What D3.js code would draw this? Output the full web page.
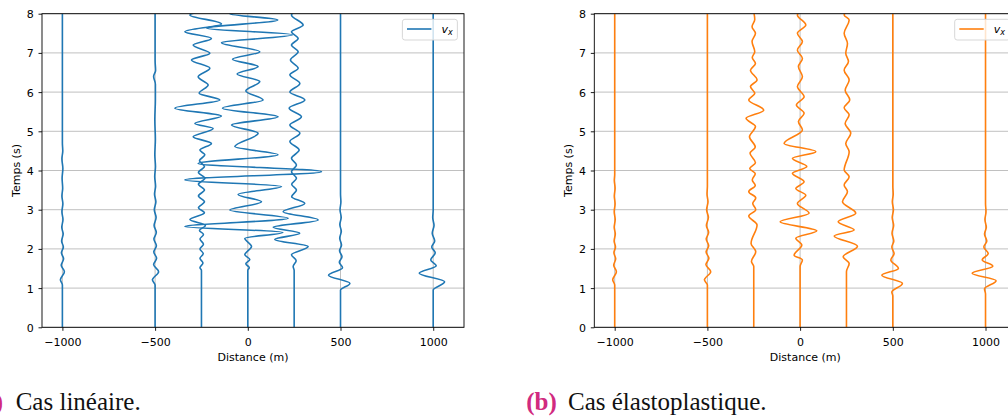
<!DOCTYPE html>
<html><head><meta charset="utf-8">
<script src="https://cdn.jsdelivr.net/npm/d3@7"></script>
<style>body{margin:0;background:#fff} svg text{font-family:"DejaVu Sans";} svg text.cap{font-family:"Liberation Serif";}</style>
</head><body><svg id="c" width="1008" height="417"></svg>
<script>
// ---------- data ----------
const positions = [-1000, -500, -250, 0, 250, 500, 1000];   // station distance (m)
const xTicks = [-1000, -500, 0, 500, 1000];
const yTicks = [0, 1, 2, 3, 4, 5, 6, 7, 8];
const seriesName = "v";
const captions = [["(a)", "Cas linéaire."], ["(b)", "Cas élastoplastique."]];
const GAIN = 5.39; // metres of trace deflection per unit of vx

// linear case : [time (s), vx]
const lin_m1000 = [[0,0],[1.08,0],[1.21,-2],[1.42,2],[1.58,-1.2],[1.75,1.2],[1.9,-1],[2.05,1],[2.2,-0.8],[2.38,0.8],[2.55,-0.6],[2.75,0.6],[2.95,-0.5],[3.15,0.5],[3.35,-0.5],[3.55,0.3],[3.8,-0.3],[4.05,0.5],[4.3,-0.5],[4.5,0.4],[4.7,0],[8,0]];
const lin_m500 = [[0,0],[1.08,0],[1.21,-2.7],[1.42,3.5],[1.6,-1.5],[1.76,1.5],[1.92,-1.3],[2.08,1.3],[2.25,-1.2],[2.42,1.2],[2.6,-1],[2.8,1],[3.0,-0.8],[3.2,0.8],[3.4,-0.6],[3.6,0.5],[3.85,-0.4],[4.1,0.4],[4.4,-0.3],[4.8,0.3],[5.3,-0.3],[5.8,0.3],[6.2,0.3],[6.4,-1.5],[6.55,0.5],[6.8,0],[8,0]];
const lin_m250 = [[0,0],[1.45,0],[1.52,-1.5],[1.64,1.5],[1.76,-1.5],[1.88,1.8],[2.0,-1.5],[2.12,2],[2.25,-1.5],[2.37,2],[2.47,-2],[2.6,4],[2.75,-11.6],[2.92,3],[3.05,-3],[3.2,3],[3.35,-3],[3.5,3],[3.65,-3],[3.8,3.5],[3.95,-3],[4.1,3],[4.25,-2],[4.4,3.4],[4.52,-1.6],[4.69,10],[4.86,-8.3],[5.07,11.7],[5.2,-6.6],[5.39,20],[5.59,-26.6],[5.8,18.4],[5.97,-2.3],[6.18,6.7],[6.39,-3.3],[6.61,8.4],[6.82,-10],[6.99,8.4],[7.2,-8.3],[7.37,10],[7.54,-16.6],[7.74,20],[7.97,-11.6],[8.05,0]];
const lin_0 = [[0,0],[1.45,0],[1.52,1.5],[1.62,-2],[1.73,2],[1.85,-3],[2.06,3.7],[2.27,-3],[2.42,35],[2.57,-63],[2.78,40.3],[2.99,-18],[3.2,13.7],[3.39,-9.7],[3.59,33.7],[3.76,-63],[3.97,73.7],[4.18,-49.7],[4.4,30.3],[4.61,-13],[4.95,10.3],[5.16,-16.3],[5.37,30.3],[5.59,-25.3],[5.8,15.3],[6.03,-2],[6.27,12],[6.46,-10.7],[6.65,10.3],[6.84,-15.3],[7.03,12],[7.26,-26.3],[7.46,45],[7.63,-41],[7.84,30],[8.0,-18],[8.1,0]];
const lin_250 = [[0,0],[1.45,0],[1.55,-1],[1.7,2],[1.85,-2.7],[2.06,14],[2.24,-19.4],[2.4,5.6],[2.55,-21],[2.74,24],[2.95,-11],[3.16,10.6],[3.33,-2.5],[3.5,2.3],[3.65,-2.5],[3.8,2.3],[3.97,-2.7],[4.14,2.3],[4.31,-2.7],[4.52,5],[4.74,-4.3],[4.95,5.7],[5.16,-4.3],[5.37,7.3],[5.59,-5],[5.8,10.7],[6.0,-4.3],[6.22,5.7],[6.44,-4.3],[6.61,4],[6.82,-3.7],[7.03,4],[7.2,-2.7],[7.37,4],[7.54,-2.7],[7.71,9],[7.97,-2.7],[8.05,0]];
const lin_500 = [[0,0],[0.95,0],[1.12,9.4],[1.33,-12],[1.52,2],[1.66,-1.2],[1.8,1.5],[1.95,-1],[2.1,1],[2.27,-0.8],[2.45,0.8],[2.62,-0.7],[2.8,0.7],[3.0,-0.5],[3.2,0.4],[3.4,0],[8,0]];
const lin_1000 = [[0,0],[0.95,0],[1.16,11.4],[1.38,-14],[1.57,3],[1.72,-2.5],[1.9,2],[2.05,-1.5],[2.2,1.5],[2.4,-1],[2.6,0.8],[2.8,-0.5],[3.0,0],[8,0]];

// elastoplastic case : [time (s), vx]
const ep_m1000 = [[0,0],[1.08,0],[1.21,-2],[1.42,1.7],[1.58,-1],[1.75,1],[1.9,-0.8],[2.05,0.8],[2.2,-0.6],[2.38,0.6],[2.55,-0.5],[2.75,0.5],[2.95,-0.5],[3.15,0.4],[3.35,-0.4],[3.55,0.4],[3.75,-0.4],[3.9,0],[8,0]];
const ep_m500 = [[0,0],[1.08,0],[1.21,-3],[1.42,3.3],[1.6,-1.5],[1.76,1.5],[1.92,-1.3],[2.08,1.3],[2.25,-1.2],[2.42,1.2],[2.6,-1],[2.8,1],[3.0,-0.8],[3.2,0.6],[3.4,-0.4],[3.6,0],[8,0]];
const ep_m250 = [[0,0],[1.55,0],[1.68,-2.3],[1.93,2],[2.14,-2.7],[2.61,3.3],[2.84,-5],[3.0,2],[3.16,-1],[3.3,2],[3.46,-5],[3.62,1.5],[3.76,-1.5],[3.92,1.5],[4.05,-4],[4.2,1.7],[4.44,-3.7],[4.6,1.5],[4.86,-4.3],[5.12,1.7],[5.33,-7.7],[5.54,10],[5.8,-5],[5.97,1],[6.14,-3.3],[6.31,3.3],[6.56,-3.3],[6.73,1.7],[6.88,-1.5],[7.03,1],[7.29,-1.7],[7.5,1.7],[7.67,-1.7],[7.85,1],[8.05,0]];
const ep_0 = [[0,0],[1.55,0],[1.72,2.3],[1.84,-6],[2.1,1.7],[2.27,-4.3],[2.46,16.7],[2.69,-20],[2.91,9],[3.16,-2.7],[3.37,5.7],[3.54,-4.3],[3.71,4],[3.93,-7.7],[4.1,6.7],[4.31,-7.7],[4.48,15.7],[4.69,-16],[5.03,2.3],[5.25,-1.7],[5.46,4],[5.67,-3.7],[5.88,4],[6.14,-2.7],[6.39,2.3],[6.65,-1.7],[6.86,2.3],[7.07,-2.7],[7.29,2.3],[7.5,-2.7],[7.71,5.7],[7.97,-2.7],[8.05,0]];
const ep_250 = [[0,0],[1.42,0],[1.63,2.7],[1.8,-3.3],[2.07,11],[2.33,-12.3],[2.48,7.7],[2.69,-8.3],[2.91,9.3],[3.2,-4],[3.46,1],[3.63,-2.3],[3.84,2.7],[4.01,-2.3],[4.48,2.7],[4.69,-0.7],[4.95,4.3],[5.2,-1.3],[5.42,2.7],[5.6,-2.3],[5.8,3.3],[6.05,-1.3],[6.31,2.7],[6.56,-2.3],[6.78,2],[6.99,-0.7],[7.24,1],[7.5,-2.3],[7.84,2.7],[7.97,-2.3],[8.05,0]];
const ep_500 = [[0,0],[0.8,0],[0.9,-1],[1.12,9.6],[1.33,-11],[1.5,5.6],[1.72,-2],[1.88,1.3],[2.05,-1],[2.2,1],[2.4,-0.8],[2.6,0.8],[2.8,-0.6],[3.0,0.6],[3.2,-0.5],[3.4,0.4],[3.6,0],[8,0]];
const ep_1000 = [[0,0],[0.85,0],[0.98,-1],[1.19,10.6],[1.38,-13.4],[1.56,7.3],[1.72,-3.3],[1.88,2.7],[2.05,-1.7],[2.2,1.3],[2.38,-1],[2.55,0.8],[2.75,-0.6],[2.95,0.5],[3.15,0],[8,0]];

const linTraces = [lin_m1000, lin_m500, lin_m250, lin_0, lin_250, lin_500, lin_1000];
const epTraces = [ep_m1000, ep_m500, ep_m250, ep_0, ep_250, ep_500, ep_1000];

// ---------- drawing ----------
const svg = d3.select("#c");
const xDomain = [-1110, 1166];
const PW = 422, TOP = 13.7, BOT = 327.3;

function panel(left, traces, color, idx) {
  const x = d3.scaleLinear().domain(xDomain).range([left, left + PW]);
  const y = d3.scaleLinear().domain([0, 8]).range([BOT, TOP]);
  const g = svg.append("g");
  const cid = "clip" + idx;
  svg.append("clipPath").attr("id", cid).append("rect")
    .attr("x", left).attr("y", TOP).attr("width", PW).attr("height", BOT - TOP);

  g.append("g").selectAll("line").data(yTicks).join("line")
    .attr("x1", left).attr("x2", left + PW).attr("y1", d => y(d)).attr("y2", d => y(d))
    .attr("stroke", "#b0b0b0").attr("stroke-width", 0.8);
  g.append("g").selectAll("line").data(xTicks).join("line")
    .attr("x1", d => x(d)).attr("x2", d => x(d)).attr("y1", TOP).attr("y2", BOT)
    .attr("stroke", "#b0b0b0").attr("stroke-width", 0.8);

  const tg = g.append("g").attr("clip-path", `url(#${cid})`);
  traces.forEach((tr, i) => {
    const p = positions[i];
    const line = d3.line().x(d => x(p + GAIN * d[1])).y(d => y(d[0])).curve(d3.curveMonotoneY);
    tg.append("path").datum(tr).attr("d", line).attr("fill", "none")
      .attr("stroke", color).attr("stroke-width", 1.6).attr("stroke-linejoin", "round");
  });

  g.append("rect").attr("x", left).attr("y", TOP).attr("width", PW).attr("height", BOT - TOP)
    .attr("fill", "none").attr("stroke", "#000").attr("stroke-width", 0.9);

  const xa = g.append("g").attr("transform", `translate(0,${BOT})`)
    .call(d3.axisBottom(x).tickValues(xTicks).tickSize(3.5).tickFormat(d3.format("d")));
  xa.select(".domain").remove();
  xa.selectAll("line").attr("stroke", "#000").attr("stroke-width", 0.9);
  xa.selectAll("text").attr("y", 10.5).attr("dy", "0.71em").attr("font-size", 11)
    .attr("fill", "#000");

  const ya = g.append("g").attr("transform", `translate(${left},0)`)
    .call(d3.axisLeft(y).tickValues(yTicks).tickSize(3.5));
  ya.select(".domain").remove();
  ya.selectAll("line").attr("stroke", "#000").attr("stroke-width", 0.9);
  ya.selectAll("text").attr("x", -8.2).attr("dy", "0.36em").attr("font-size", 11)
    .attr("fill", "#000");

  g.append("text").attr("x", left + PW / 2).attr("y", 360.5).attr("text-anchor", "middle")
    .attr("font-size", 11).text("Distance (m)");
  g.append("text").attr("transform", `translate(${left - 22},${(TOP + BOT) / 2}) rotate(-90)`)
    .attr("text-anchor", "middle").attr("font-size", 11).text("Temps (s)");

  // legend
  const lx = left + PW - 61.6;
  g.append("rect").attr("x", lx).attr("y", 19.3).attr("width", 55).attr("height", 20.7)
    .attr("rx", 2.5).attr("fill", "#fff").attr("fill-opacity", 0.8)
    .attr("stroke", "#d3d3d3").attr("stroke-width", 0.9);
  g.append("line").attr("x1", lx + 4.6).attr("x2", lx + 29).attr("y1", 29).attr("y2", 29)
    .attr("stroke", color).attr("stroke-width", 1.6);
  const lt = g.append("text").attr("x", lx + 39).attr("y", 33).attr("font-size", 11);
  lt.append("tspan").attr("font-style", "italic").text(seriesName);
  lt.append("tspan").attr("font-style", "italic").attr("font-size", 8).attr("dy", 2).text("x");

  // caption
  const cap = captions[idx];
  svg.append("text").attr("class", "cap").attr("x", left - 68).attr("y", 409.5)
    .style("font-family", "'Liberation Serif', serif").attr("font-size", 25).attr("font-weight", "bold")
    .attr("fill", "#d12a7f").text(cap[0]);
  svg.append("text").attr("class", "cap").attr("x", left - 26.3).attr("y", 409.5)
    .style("font-family", "'Liberation Serif', serif").attr("font-size", 25)
    .attr("fill", "#111").text(cap[1]);
}

panel(42, linTraces, "#1f77b4", 0);
panel(594.3, epTraces, "#ff7f0e", 1);
</script></body></html>
